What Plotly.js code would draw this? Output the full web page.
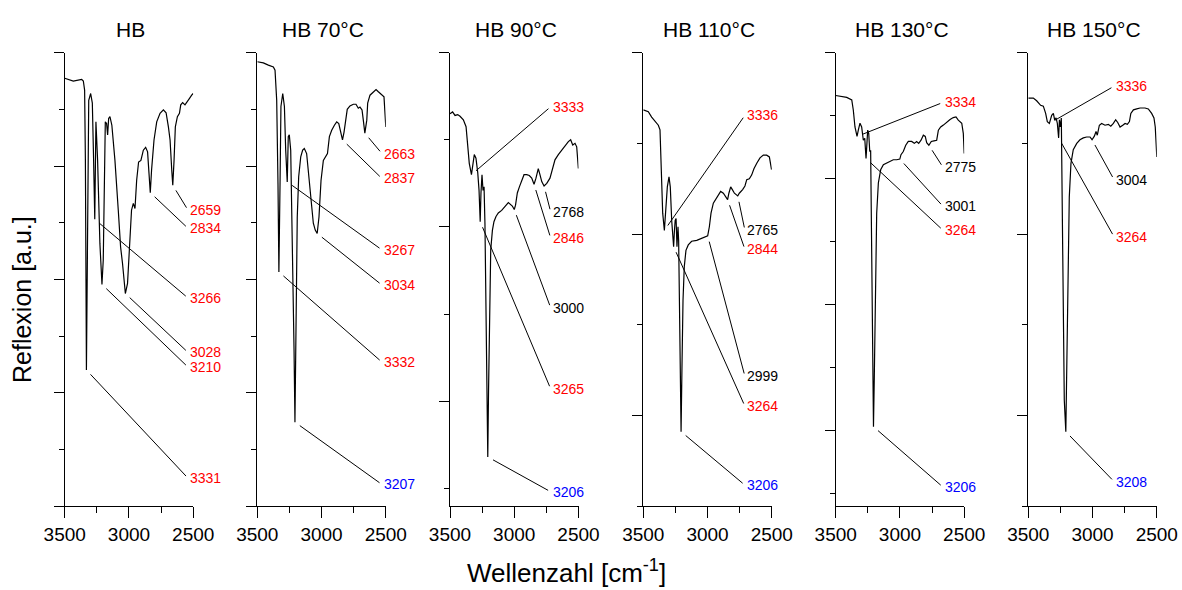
<!DOCTYPE html>
<html><head><meta charset="utf-8">
<script src="https://cdn.plot.ly/plotly-3.0.1.min.js"></script>
<style>html,body{margin:0;padding:0;background:#fff}#chart{width:1182px;height:590px}</style>
</head><body><div id="chart"></div>
<script>
// ---------------- DATA ----------------
const panelTitles = ['HB', 'HB 70°C', 'HB 90°C', 'HB 110°C', 'HB 130°C', 'HB 150°C'];
const xTickVals = [3500, 3000, 2500];
const xTickText = ['3500', '3000', '2500'];

// Spectra: wavenumber [cm-1] and reflexion [a.u.]
const wn1 = [3500,3433,3368,3355,3345,3339,3331,3324,3313,3298,3285,3275,3266,3257,3244,3226,3213,3210,3200,3192,3184,3174,3166,3158,3148,3133,3109,3083,3065,3050,3034,3028,3011,2993,2980,2966,2953,2940,2925,2907,2888,2870,2855,2844,2834,2824,2805,2784,2758,2732,2711,2693,2680,2667,2659,2649,2639,2623,2607,2597,2582,2564,2551,2530,2512,2500];
const r1  = [7.55,7.50,7.53,7.50,7.34,6.10,2.40,4.93,7.16,7.28,7.11,6.10,5.06,6.78,6.10,4.63,3.99,3.91,4.34,6.10,6.78,6.75,6.55,6.84,6.87,6.72,6.10,5.22,4.57,4.28,3.81,3.75,3.93,4.57,5.22,5.34,5.25,5.75,6.07,6.10,6.28,6.33,6.25,5.87,5.53,5.93,6.46,6.78,6.93,6.99,6.94,6.69,6.46,5.93,5.66,6.10,6.69,6.87,6.93,7.08,7.12,7.08,7.13,7.19,7.25,7.28];

const wn2 = [3500,3453,3414,3375,3362,3349,3339,3332,3323,3316,3302,3289,3279,3267,3259,3251,3240,3228,3214,3207,3199,3189,3178,3162,3147,3134,3116,3098,3082,3064,3049,3034,3020,3004,2986,2970,2954,2939,2921,2900,2882,2866,2852,2837,2825,2812,2800,2779,2753,2732,2714,2701,2685,2675,2663,2648,2641,2623,2597,2576,2558,2532,2514,2500];
const r2  = [7.84,7.82,7.78,7.75,7.69,7.16,5.69,4.13,5.69,7.05,7.28,7.05,6.28,5.72,6.52,6.55,6.28,4.81,2.75,1.48,2.75,5.10,5.81,6.16,6.28,6.31,6.22,5.81,5.34,4.99,4.87,4.81,5.10,5.75,6.10,6.16,6.22,6.52,6.63,6.72,6.78,6.75,6.60,6.46,6.60,6.87,7.00,7.06,7.09,7.09,7.02,7.04,6.99,6.81,6.58,6.81,7.11,7.25,7.31,7.35,7.31,7.25,7.22,6.69];

const wn3 = [3500,3480,3461,3440,3422,3396,3375,3365,3350,3333,3324,3311,3298,3284,3274,3265,3259,3251,3243,3235,3228,3220,3212,3206,3200,3191,3183,3170,3158,3142,3124,3098,3072,3046,3015,3000,2990,2976,2960,2942,2924,2903,2883,2864,2846,2831,2813,2800,2786,2768,2747,2722,2701,2683,2657,2631,2605,2579,2561,2545,2527,2514,2501];
const r3  = [4.30,4.32,4.28,4.29,4.27,4.23,4.15,4.00,3.73,3.60,3.69,3.83,3.79,3.62,3.42,3.06,3.39,3.60,3.42,3.46,3.04,1.89,0.75,0.36,1.13,2.28,2.74,2.96,3.06,3.12,3.16,3.19,3.24,3.28,3.24,3.20,3.25,3.39,3.46,3.54,3.60,3.60,3.59,3.56,3.49,3.56,3.67,3.60,3.52,3.47,3.50,3.56,3.67,3.77,3.83,3.88,3.92,3.98,4.00,3.94,3.96,3.92,3.67];

const wn4 = [3500,3461,3435,3409,3383,3370,3360,3349,3336,3326,3313,3300,3290,3279,3264,3258,3252,3245,3238,3230,3225,3219,3212,3206,3199,3191,3181,3168,3150,3124,3084,3046,3020,2999,2986,2973,2955,2934,2916,2898,2877,2860,2844,2834,2820,2807,2791,2765,2753,2727,2709,2695,2675,2657,2639,2617,2592,2566,2540,2519,2502];
const r4  = [4.37,4.35,4.29,4.24,4.20,4.15,3.74,3.23,3.04,3.27,3.52,3.63,3.52,3.15,2.86,3.03,3.15,3.17,2.86,3.08,2.93,2.27,1.17,0.82,1.54,2.27,2.64,2.82,2.88,2.92,2.93,2.95,2.97,2.98,3.08,3.23,3.34,3.39,3.43,3.47,3.45,3.42,3.38,3.45,3.52,3.49,3.45,3.42,3.45,3.49,3.53,3.60,3.61,3.65,3.72,3.78,3.84,3.87,3.87,3.85,3.71];

const wn5 = [3500,3453,3414,3375,3363,3350,3334,3324,3311,3298,3285,3274,3264,3257,3251,3243,3235,3228,3220,3212,3206,3200,3192,3181,3168,3150,3129,3103,3077,3052,3025,3001,2992,2974,2955,2935,2909,2888,2870,2854,2836,2818,2803,2792,2775,2756,2735,2714,2701,2683,2662,2636,2610,2585,2564,2546,2519,2507,2500];
const r5  = [6.32,6.31,6.29,6.25,6.09,5.82,5.67,5.77,5.88,5.82,5.61,5.64,5.32,5.56,5.77,5.72,5.43,5.45,4.18,2.33,1.06,1.80,3.39,4.45,4.93,5.14,5.22,5.25,5.28,5.30,5.30,5.31,5.38,5.43,5.53,5.59,5.59,5.56,5.59,5.56,5.61,5.69,5.67,5.57,5.53,5.59,5.60,5.61,5.77,5.82,5.85,5.90,5.94,5.97,5.98,5.93,5.88,5.72,5.40];

const wn6 = [3500,3461,3435,3404,3383,3365,3352,3336,3318,3305,3295,3284,3274,3264,3258,3251,3243,3235,3228,3220,3208,3201,3191,3181,3168,3150,3123,3098,3072,3046,3020,3004,2986,2973,2963,2947,2929,2903,2877,2858,2838,2820,2804,2786,2765,2747,2729,2713,2702,2682,2656,2630,2592,2566,2540,2522,2512,2500];
const r6  = [4.50,4.50,4.47,4.42,4.41,4.33,4.24,4.22,4.31,4.33,4.26,4.28,4.22,4.06,4.26,4.18,4.28,3.23,1.76,1.17,0.82,1.39,2.49,3.41,3.78,3.93,4.00,4.04,4.06,4.07,4.07,4.04,4.08,4.13,4.09,4.20,4.22,4.20,4.21,4.19,4.22,4.26,4.23,4.18,4.20,4.22,4.21,4.24,4.33,4.37,4.38,4.39,4.39,4.38,4.33,4.28,4.18,3.85];

// Labelled band positions [cm-1] and their label class (r = red, k = black, b = blue)
const peaks1 = [3331, 3210, 3028, 3266, 2834, 2659];
const kind1  = ['r','r','r','r','r','r'];
const peaks2 = [3207, 3332, 3034, 3267, 2837, 2663];
const kind2  = ['b','r','r','r','r','r'];
const peaks3 = [3206, 3265, 3000, 2846, 2768, 3333];
const kind3  = ['b','r','k','r','k','r'];
const peaks4 = [3206, 3264, 2999, 2844, 2765, 3336];
const kind4  = ['b','r','k','r','k','r'];
const peaks5 = [3206, 3264, 3001, 2775, 3334];
const kind5  = ['b','r','k','k','r'];
const peaks6 = [3208, 3264, 3004, 3336];
const kind6  = ['b','r','k','r'];

// ---------------- LAYOUT (positions / styles) ----------------
const W = 1182, H = 590;
const FONT = 'Liberation Sans, Arial, Helvetica, sans-serif';
const x0px = [64.7, 257.3, 450, 643.3, 835.7, 1028.3];   // pixel of 3500
const plotW = 128.5;                                     // px for 1000 cm-1
const yTopPx = 52.7, yBotPx = 506;
const yRanges = [[0, 8], [0, 8], [-0.203, 5], [0, 5], [-0.2, 7], [0, 5]];
const yTick0  = [0, 0, 1, 1, 1, 1];
// label anchor positions (data coords of each panel), in the same order as peaks
const labelX = [2540, 2530, 2716, 2709, 2665, 2833];
const labelYs = [
  [0.49, 2.45, 2.71, 3.67, 4.90, 5.22],
  [0.38, 2.54, 3.90, 4.52, 5.78, 6.22],
  [-0.04, 1.14, 2.07, 2.87, 3.17, 4.38],
  [0.23, 1.10, 1.43, 2.83, 3.04, 4.31],
  [0.10, 4.18, 4.56, 5.18, 6.21],
  [0.27, 2.97, 3.60, 4.63]
];
const colorMap = {r: '#ff0000', k: '#000000', b: '#0000ff'};

const wns = [wn1, wn2, wn3, wn4, wn5, wn6];
const rs = [r1, r2, r3, r4, r5, r6];
const peaks = [peaks1, peaks2, peaks3, peaks4, peaks5, peaks6];
const kinds = [kind1, kind2, kind3, kind4, kind5, kind6];

function interp(xs, ys, x) {
  for (let i = 0; i < xs.length - 1; i++) {
    const a = xs[i], b = xs[i + 1];
    if ((a >= x && x >= b) || (a <= x && x <= b)) {
      if (a === b) return ys[i];
      return ys[i] + (ys[i + 1] - ys[i]) * (x - a) / (b - a);
    }
  }
  return ys[ys.length - 1];
}

const traces = [];
const layout = {
  width: W, height: H, autosize: false,
  margin: {l: 0, r: 0, t: 0, b: 0},
  paper_bgcolor: '#ffffff', plot_bgcolor: '#ffffff',
  showlegend: false,
  font: {family: FONT, color: '#000000'},
  annotations: []
};

for (let k = 0; k < 6; k++) {
  const sfx = k === 0 ? '' : String(k + 1);
  const xa = 'x' + sfx, ya = 'y' + sfx;
  traces.push({
    type: 'scatter', mode: 'lines', x: wns[k], y: rs[k],
    xaxis: xa, yaxis: ya,
    line: {color: '#000000', width: 1.2}, hoverinfo: 'skip'
  });
  layout['xaxis' + sfx] = {
    domain: [x0px[k] / W, (x0px[k] + plotW) / W],
    range: [3500, 2500], anchor: ya,
    tickmode: 'array', tickvals: xTickVals, ticktext: xTickText,
    ticks: 'outside', ticklen: 11, tickwidth: 1, tickcolor: '#000',
    minor: {tickvals: [3250, 2750], ticks: 'outside', ticklen: 6, tickwidth: 1, tickcolor: '#000', showgrid: false},
    showline: true, linecolor: '#000', linewidth: 1,
    showgrid: false, zeroline: false,
    tickfont: {family: FONT, size: 19, color: '#000'}
  };
  layout['yaxis' + sfx] = {
    domain: [1 - yBotPx / H, 1 - yTopPx / H],
    range: yRanges[k], anchor: xa,
    tickmode: 'linear', tick0: yTick0[k], dtick: 2,
    ticks: 'outside', ticklen: 10, tickwidth: 1, tickcolor: '#000',
    minor: {tick0: yTick0[k], dtick: 1, ticks: 'outside', ticklen: 5, tickwidth: 1, tickcolor: '#000', showgrid: false},
    showticklabels: false,
    showline: true, linecolor: '#000', linewidth: 1,
    showgrid: false, zeroline: false
  };
  // panel title
  layout.annotations.push({
    xref: 'paper', yref: 'paper',
    x: (x0px[k] + 66) / W, y: 1 - 30 / H,
    xanchor: 'center', yanchor: 'middle', showarrow: false,
    text: panelTitles[k], font: {family: FONT, size: 21, color: '#000'}
  });
  // band labels with leader lines
  for (let j = 0; j < peaks[k].length; j++) {
    const p = peaks[k][j];
    layout.annotations.push({
      xref: xa, yref: ya, axref: xa, ayref: ya,
      x: p, y: interp(wns[k], rs[k], p),
      ax: labelX[k], ay: labelYs[k][j],
      text: String(p),
      showarrow: true, arrowhead: 0, arrowwidth: 1, arrowcolor: '#000',
      standoff: 6, startstandoff: 3,
      xanchor: 'left', yanchor: 'middle',
      font: {family: FONT, size: 14, color: colorMap[kinds[k][j]]}
    });
  }
}

// axis titles
layout.annotations.push({
  xref: 'paper', yref: 'paper', x: 566 / W, y: 0,
  xanchor: 'center', yanchor: 'bottom', showarrow: false,
  text: 'Wellenzahl [cm<sup>-1</sup>]', font: {family: FONT, size: 26, color: '#000'}
});
layout.annotations.push({
  xref: 'paper', yref: 'paper', x: 22 / W, y: 1 - 300 / H,
  xanchor: 'center', yanchor: 'middle', showarrow: false, textangle: -90,
  text: 'Reflexion [a.u.]', font: {family: FONT, size: 25, color: '#000'}
});

Plotly.newPlot('chart', traces, layout, {staticPlot: true, displayModeBar: false});
</script>
</body></html>
